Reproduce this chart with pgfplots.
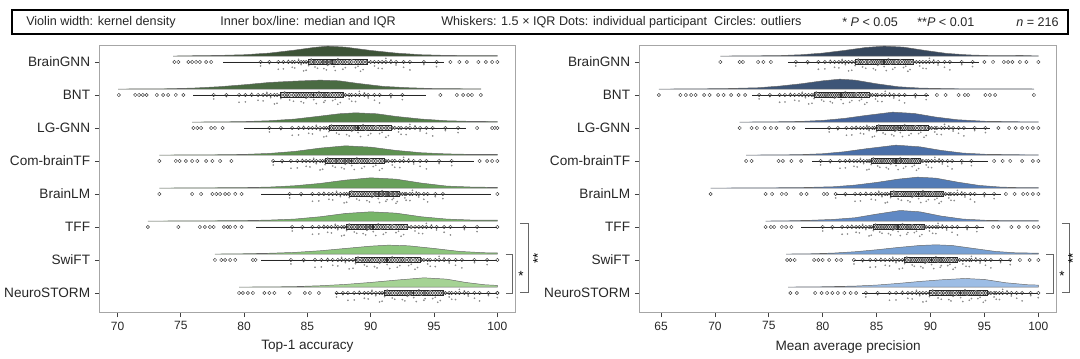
\documentclass[border=0pt]{standalone}
\usepackage{fontspec}
\setmainfont{Liberation Sans}
\usepackage{pgfplots}
\pgfplotsset{compat=1.18}
\usepackage{pgfplotstable}
\usepgfplotslibrary{statistics}

\definecolor{g1}{HTML}{3D5337}
\definecolor{g2}{HTML}{4A6B42}
\definecolor{g3}{HTML}{527E48}
\definecolor{g4}{HTML}{5D9150}
\definecolor{g5}{HTML}{67A05A}
\definecolor{g6}{HTML}{77B568}
\definecolor{g7}{HTML}{8CC57C}
\definecolor{g8}{HTML}{A5D394}
\definecolor{b1}{HTML}{36475D}
\definecolor{b2}{HTML}{3D5577}
\definecolor{b3}{HTML}{44639A}
\definecolor{b4}{HTML}{4A6FA8}
\definecolor{b5}{HTML}{527BB6}
\definecolor{b6}{HTML}{6089C4}
\definecolor{b7}{HTML}{77A0D3}
\definecolor{b8}{HTML}{9DBDE5}

% participant values (subset), columns: BrainGNN BNT LG-GNN Com-brainTF BrainLM TFF SwiFT NeuroSTORM
\pgfplotstableread{
dy a b c d e f g h
-0.12 81.3 77.6 82.0 82.3 83.6 83.8 83.7 87.3
-0.22 82.7 79.6 83.8 83.7 85.4 85.4 85.6 88.2
0.05 83.5 80.6 84.7 84.6 86.3 86.3 86.6 89.1
-0.18 84.0 81.5 85.4 85.2 87.0 86.9 87.4 89.8
-0.08 84.5 82.1 86.0 85.7 87.6 87.4 88.0 90.4
-0.25 84.9 82.6 86.5 86.2 88.1 87.9 88.6 90.9
0.09 85.3 83.2 86.9 86.6 88.5 88.3 89.0 91.3
-0.15 85.6 83.6 87.3 87.0 88.9 88.7 89.5 91.7
-0.03 86.0 84.1 87.7 87.3 89.3 89.0 89.9 92.1
-0.20 86.3 84.5 88.1 87.7 89.7 89.4 90.3 92.5
-0.10 86.6 84.9 88.5 88.0 90.1 89.7 90.7 92.9
0.02 86.9 85.3 88.8 88.3 90.4 90.0 91.1 93.2
-0.26 87.2 85.7 89.2 88.7 90.7 90.4 91.5 93.6
-0.06 87.6 86.1 89.6 89.1 91.0 90.8 91.9 94.0
-0.17 88.0 86.4 90.0 89.5 91.3 91.2 92.3 94.3
0.07 88.5 86.8 90.4 89.9 91.5 91.7 92.7 94.7
-0.13 89.0 87.2 90.9 90.4 91.8 92.2 93.2 95.1
-0.23 89.4 87.6 91.4 90.9 92.1 92.6 93.7 95.5
-0.01 90.0 88.0 91.9 91.4 92.5 93.2 94.2 95.9
-0.19 90.6 88.5 92.4 91.9 92.8 93.8 94.7 96.4
0.11 91.2 89.1 93.1 92.6 93.3 94.4 95.4 97.0
-0.09 92.0 89.8 93.9 93.4 93.8 95.2 96.2 97.7
-0.24 93.1 90.7 94.9 94.4 94.5 96.3 97.2 98.6
-0.14 95.2 92.5 96.9 96.4 95.7 98.4 99.2 100.0
-0.05 82.0 78.6 82.9 83.0 84.5 84.6 84.7 87.8
-0.21 83.1 80.1 84.3 84.2 85.9 85.9 86.1 88.7
-0.16 83.8 81.1 85.1 84.9 86.7 86.6 87.0 89.5
0.08 84.3 81.8 85.7 85.5 87.3 87.2 87.7 90.1
-0.27 84.7 82.4 86.3 86.0 87.9 87.7 88.3 90.7
-0.11 85.1 82.9 86.7 86.4 88.3 88.1 88.8 91.1
-0.02 85.5 83.4 87.1 86.8 88.7 88.5 89.3 91.5
-0.19 85.8 83.9 87.5 87.2 89.1 88.9 89.7 91.9
0.04 86.2 84.3 87.9 87.5 89.5 89.2 90.1 92.3
-0.24 86.5 84.7 88.3 87.9 89.9 89.6 90.5 92.7
-0.07 86.8 85.1 88.7 88.2 90.3 89.9 90.9 93.1
-0.14 87.1 85.5 89.0 88.5 90.6 90.2 91.3 93.4
0.10 87.4 85.9 89.4 88.9 90.9 90.6 91.7 93.8
-0.22 87.8 86.3 89.8 89.3 91.2 91.0 92.1 94.2
-0.04 88.3 86.6 90.2 89.7 91.4 91.5 92.5 94.5
-0.17 88.8 87.0 90.7 90.2 91.7 92.0 93.0 94.9
-0.28 89.2 87.4 91.2 90.7 92.0 92.4 93.5 95.3
0.01 89.7 87.8 91.7 91.2 92.3 92.9 94.0 95.7
-0.12 90.3 88.3 92.2 91.7 92.7 93.5 94.5 96.2
-0.20 90.9 88.8 92.8 92.3 93.1 94.1 95.1 96.7
0.06 91.6 89.5 93.5 93.0 93.6 94.8 95.8 97.4
-0.16 92.6 90.3 94.4 93.9 94.2 95.8 96.7 98.2
-0.08 94.2 91.6 95.9 95.4 95.1 97.4 98.2 99.3
}\leftdots

\pgfplotstableread{
dy a b c d e f g h
-0.12 77.5 74.1 80.6 79.8 81.2 80.0 82.9 84.0
-0.22 79.6 76.0 82.2 81.6 83.0 81.8 84.4 86.2
0.05 80.7 77.0 83.1 82.5 84.0 82.7 85.4 87.4
-0.18 81.5 77.8 83.8 83.2 84.9 83.4 86.2 88.3
-0.08 82.1 78.4 84.3 83.8 85.5 84.0 86.8 89.0
-0.25 82.7 79.0 84.8 84.3 86.0 84.5 87.4 89.6
0.09 83.3 79.4 85.2 84.7 86.6 84.9 87.8 90.2
-0.15 83.7 79.9 85.6 85.1 87.0 85.3 88.3 90.7
-0.03 84.2 80.3 86.0 85.5 87.5 85.7 88.7 91.2
-0.20 84.7 80.7 86.4 85.9 87.9 86.1 89.1 91.7
-0.10 85.1 81.1 86.7 86.3 88.3 86.5 89.5 92.1
0.02 85.5 81.5 87.0 86.6 88.7 86.8 89.9 92.6
-0.26 85.9 81.9 87.4 87.0 89.1 87.2 90.3 93.0
-0.06 86.3 82.3 87.8 87.3 89.4 87.6 90.7 93.4
-0.17 86.7 82.7 88.2 87.7 89.8 87.9 91.0 93.8
0.07 87.2 83.1 88.6 88.1 90.2 88.3 91.4 94.2
-0.13 87.7 83.6 89.1 88.5 90.6 88.7 91.8 94.6
-0.23 88.1 84.1 89.6 88.9 91.0 89.2 92.3 95.1
-0.01 88.7 84.6 90.1 89.3 91.4 89.6 92.7 95.6
-0.19 89.3 85.1 90.6 89.8 91.9 90.2 93.3 96.1
0.11 89.9 85.8 91.3 90.4 92.5 90.7 93.8 96.7
-0.09 90.7 86.6 92.1 91.1 93.2 91.5 94.6 97.5
-0.24 91.8 87.6 93.1 92.0 94.1 92.5 95.6 98.5
-0.14 93.9 89.6 95.1 93.8 95.9 94.3 97.4 100.0
-0.05 78.6 75.1 81.4 80.7 82.1 80.9 83.7 85.1
-0.21 80.2 76.5 82.7 82.1 83.5 82.3 84.9 86.8
-0.16 81.1 77.4 83.5 82.9 84.5 83.1 85.8 87.9
0.08 81.8 78.1 84.1 83.5 85.2 83.7 86.5 88.7
-0.27 82.4 78.7 84.6 84.1 85.8 84.3 87.1 89.3
-0.11 83.0 79.2 85.0 84.5 86.3 84.7 87.6 89.9
-0.02 83.5 79.7 85.4 84.9 86.8 85.1 88.1 90.5
-0.19 84.0 80.1 85.8 85.3 87.3 85.5 88.5 91.0
0.04 84.5 80.5 86.2 85.7 87.7 85.9 88.9 91.5
-0.24 84.9 80.9 86.6 86.1 88.1 86.3 89.3 91.9
-0.07 85.3 81.3 86.9 86.5 88.5 86.7 89.7 92.4
-0.14 85.7 81.7 87.2 86.8 88.9 87.0 90.1 92.8
0.10 86.1 82.1 87.6 87.2 89.3 87.4 90.5 93.2
-0.22 86.5 82.5 88.0 87.5 89.6 87.8 90.9 93.6
-0.04 87.0 82.9 88.4 87.9 90.0 88.1 91.2 94.0
-0.17 87.5 83.4 88.9 88.3 90.4 88.5 91.6 94.4
-0.28 87.9 83.9 89.4 88.7 90.8 89.0 92.1 94.9
0.01 88.4 84.4 89.9 89.1 91.2 89.4 92.5 95.4
-0.12 89.0 84.9 90.4 89.6 91.7 89.9 93.0 95.9
-0.20 89.6 85.5 91.0 90.1 92.2 90.5 93.6 96.4
0.06 90.3 86.2 91.7 90.8 92.9 91.1 94.2 97.1
-0.16 91.3 87.1 92.6 91.6 93.7 92.0 95.1 98.0
-0.08 92.9 88.6 94.1 92.9 95.0 93.4 96.5 99.3
}\rightdots

\pgfplotsset{
  rain/.style={
    scale only axis, height=200.25pt, anchor=south west,
    ymin=0.424, ymax=8.515, ytick={1,...,8},
    yticklabels={NeuroSTORM,SwiFT,TFF,BrainLM,Com-brainTF,LG-GNN,BNT,BrainGNN},
    tick align=outside, xtick pos=bottom, ytick pos=left,
    axis line style={black!35, line width=0.6pt},
    major tick length=3.75pt,
    every tick/.style={black!75, line width=0.5pt},
    clip=false,
    /pgf/number format/assume math mode=true,
    xticklabel style={font=\fontsize{9}{10}\selectfont, color=black!85},
    yticklabel style={font=\fontsize{10.2}{12}\selectfont, color=black!85},
    xlabel style={font=\fontsize{10.2}{12}\selectfont, color=black!85,
      at={(axis description cs:0.5,0)}, anchor=center, yshift=-26pt},
  },
  violin/.style={draw=black!60, line width=0.35pt},
  jit/.style={only marks, mark=*, mark size=0.4pt, color=black!45},
  circ/.style={only marks, mark=o, mark size=1.25pt, mark options={line width=0.35pt}, color=black!75},
  bx/.style={boxplot prepared={#1}, draw=black!85, fill=black, fill opacity=0.12,
    line width=0.5pt, boxplot/box extend=0.16, boxplot/whisker extend=0,
    boxplot/draw direction=x, boxplot/every median/.style={line width=1.1pt}},
}

\begin{document}
\begin{tikzpicture}
\useasboundingbox (0,0) rectangle (810pt,268.5pt);
% top key
\draw[line width=1.1pt] (9pt,243pt) rectangle (801pt,261pt);
\begin{scope}[every node/.style={font=\fontsize{9.45}{11}\selectfont, anchor=west, inner sep=0pt, color=black!85}]
\node at (19.5pt,252pt) {Violin width: kernel density};
\node at (165pt,252pt) {Inner box/line: median and IQR};
\node at (330.75pt,252pt) {Whiskers: 1.5 × IQR Dots: individual participant\ \ Circles: outliers};
\node at (631.5pt,252pt) {* \textit{P} < 0.05};
\node at (687.75pt,252pt) {**\textit{P} < 0.01};
\node at (762pt,252pt) {\textit{n} = 216};
\end{scope}

% ---------------- left panel ----------------
\begin{axis}[rain, at={(74.85pt,34.5pt)}, width=311.4pt,
  xmin=68.6, xmax=101.4, xtick={70,75,...,100}, xlabel={Top-1 accuracy}]
\addplot[violin, fill=g1] table[row sep=\\, y expr=\thisrow{h}+8.18]{x h\\ 74.4 0\\ 76 0.01\\ 78 0.02\\ 80 0.04\\ 82 0.09\\ 84 0.18\\ 85.5 0.26\\ 86.6 0.30\\ 88 0.27\\ 90 0.17\\ 92 0.09\\ 94 0.04\\ 96 0.02\\ 98 0.012\\ 100 0.01\\ 100 0\\} -- cycle;
\addplot[violin, fill=g2] table[row sep=\\, y expr=\thisrow{h}+7.18]{x h\\ 70.05 0\\ 72 0.005\\ 74 0.01\\ 76 0.03\\ 78 0.07\\ 80 0.13\\ 82 0.20\\ 84 0.24\\ 86 0.27\\ 87.5 0.25\\ 89 0.17\\ 91 0.08\\ 93 0.04\\ 95 0.015\\ 97 0.01\\ 98.7 0.005\\ 98.7 0\\} -- cycle;
\addplot[violin, fill=g3] table[row sep=\\, y expr=\thisrow{h}+6.18]{x h\\ 75.9 0\\ 78 0.005\\ 80 0.015\\ 82 0.04\\ 84 0.09\\ 86 0.18\\ 87.5 0.25\\ 88.8 0.28\\ 90.5 0.25\\ 92 0.17\\ 94 0.09\\ 96 0.04\\ 98 0.02\\ 100 0.015\\ 100 0\\} -- cycle;
\addplot[violin, fill=g4] table[row sep=\\, y expr=\thisrow{h}+5.18]{x h\\ 73.3 0\\ 76 0.005\\ 78 0.01\\ 80 0.02\\ 82 0.05\\ 84 0.11\\ 86 0.21\\ 88 0.28\\ 90 0.24\\ 92 0.14\\ 94 0.07\\ 96 0.035\\ 98 0.02\\ 100 0.02\\ 100 0\\} -- cycle;
\addplot[violin, fill=g5] table[row sep=\\, y expr=\thisrow{h}+4.18]{x h\\ 73.3 0\\ 76 0.005\\ 80 0.015\\ 82 0.03\\ 84 0.07\\ 86 0.14\\ 88 0.24\\ 90 0.31\\ 92 0.27\\ 94 0.15\\ 96 0.06\\ 98 0.03\\ 100 0.02\\ 100 0\\} -- cycle;
\addplot[violin, fill=g6] table[row sep=\\, y expr=\thisrow{h}+3.18]{x h\\ 72.4 0\\ 76 0.005\\ 80 0.015\\ 82 0.03\\ 84 0.06\\ 86 0.13\\ 88 0.23\\ 90 0.28\\ 92 0.24\\ 94 0.13\\ 96 0.06\\ 98 0.03\\ 100 0.025\\ 100 0\\} -- cycle;
\addplot[violin, fill=g7] table[row sep=\\, y expr=\thisrow{h}+2.18]{x h\\ 77.7 0\\ 80 0.01\\ 82 0.025\\ 84 0.05\\ 86 0.10\\ 88 0.17\\ 90 0.24\\ 91.4 0.27\\ 93 0.25\\ 95 0.17\\ 97 0.08\\ 99 0.04\\ 100 0.035\\ 100 0\\} -- cycle;
\addplot[violin, fill=g8] table[row sep=\\, y expr=\thisrow{h}+1.18]{x h\\ 79.6 0\\ 82 0.005\\ 84 0.015\\ 86 0.04\\ 88 0.08\\ 90 0.14\\ 92 0.21\\ 94.2 0.28\\ 96 0.24\\ 97.5 0.14\\ 99 0.07\\ 100 0.05\\ 100 0\\} -- cycle;
% jittered participant dots
\addplot[jit] table[x=a, y expr=8+\thisrow{dy}]{\leftdots};
\addplot[jit] table[x=b, y expr=7+\thisrow{dy}]{\leftdots};
\addplot[jit] table[x=c, y expr=6+\thisrow{dy}]{\leftdots};
\addplot[jit] table[x=d, y expr=5+\thisrow{dy}]{\leftdots};
\addplot[jit] table[x=e, y expr=4+\thisrow{dy}]{\leftdots};
\addplot[jit] table[x=f, y expr=3+\thisrow{dy}]{\leftdots};
\addplot[jit] table[x=g, y expr=2+\thisrow{dy}]{\leftdots};
\addplot[jit] table[x=h, y expr=1+\thisrow{dy}]{\leftdots};
% participant circles on the line
\addplot[circ] table[x=a, y expr=8]{\leftdots};
\addplot[circ] table[x=b, y expr=7]{\leftdots};
\addplot[circ] table[x=c, y expr=6]{\leftdots};
\addplot[circ] table[x=d, y expr=5]{\leftdots};
\addplot[circ] table[x=e, y expr=4]{\leftdots};
\addplot[circ] table[x=f, y expr=3]{\leftdots};
\addplot[circ] table[x=g, y expr=2]{\leftdots};
\addplot[circ] table[x=h, y expr=1]{\leftdots};
% boxes
\addplot[bx={draw position=8, lower whisker=78.3, lower quartile=85.1, median=87.0, upper quartile=89.7, upper whisker=95.8}] coordinates {};
\addplot[bx={draw position=7, lower whisker=76.0, lower quartile=82.9, median=85.5, upper quartile=87.8, upper whisker=94.4}] coordinates {};
\addplot[bx={draw position=6, lower whisker=80.0, lower quartile=86.7, median=89.0, upper quartile=91.6, upper whisker=97.5}] coordinates {};
\addplot[bx={draw position=5, lower whisker=82.3, lower quartile=86.4, median=88.5, upper quartile=91.1, upper whisker=98.2}] coordinates {};
\addplot[bx={draw position=4, lower whisker=81.3, lower quartile=88.3, median=90.6, upper quartile=92.3, upper whisker=99.5}] coordinates {};
\addplot[bx={draw position=3, lower whisker=80.9, lower quartile=88.1, median=90.2, upper quartile=92.9, upper whisker=100}] coordinates {};
\addplot[bx={draw position=2, lower whisker=81.3, lower quartile=88.8, median=91.3, upper quartile=93.9, upper whisker=100}] coordinates {};
\addplot[bx={draw position=1, lower whisker=87.2, lower quartile=91.1, median=93.4, upper quartile=95.7, upper whisker=100}] coordinates {};
% outliers
\addplot[circ] table[row sep=\\]{x y\\
74.5 8\\ 74.8 8\\ 75.6 8\\ 75.9 8\\ 76.2 8\\ 76.5 8\\ 77.0 8\\ 77.4 8\\ 96.3 8\\ 97.0 8\\ 97.6 8\\ 98.5 8\\ 99.1 8\\ 99.6 8\\ 100 8\\
70.1 7\\ 71.4 7\\ 71.7 7\\ 72.0 7\\ 72.3 7\\ 73.1 7\\ 73.6 7\\ 74.0 7\\ 74.6 7\\ 75.2 7\\ 95.5 7\\ 96.8 7\\ 97.3 7\\ 97.7 7\\ 98.0 7\\ 98.7 7\\
76.0 6\\ 76.3 6\\ 76.6 6\\ 77.4 6\\ 77.7 6\\ 78.3 6\\ 98.4 6\\ 99.6 6\\ 99.8 6\\ 100 6\\
73.3 5\\ 74.6 5\\ 74.9 5\\ 75.4 5\\ 75.9 5\\ 76.3 5\\ 77.0 5\\ 77.5 5\\ 78.1 5\\ 79.0 5\\ 98.6 5\\ 99.2 5\\ 99.6 5\\ 100 5\\
73.3 4\\ 75.9 4\\ 76.6 4\\ 77.5 4\\ 77.8 4\\ 78.1 4\\ 78.5 4\\ 78.8 4\\ 79.3 4\\ 79.8 4\\ 100 4\\
72.4 3\\ 74.8 3\\ 76.5 3\\ 76.9 3\\ 77.3 3\\ 77.6 3\\ 78.4 3\\ 78.7 3\\ 78.9 3\\ 79.3 3\\ 79.8 3\\ 100 3\\
77.7 2\\ 78.2 2\\ 78.5 2\\ 78.9 2\\ 79.3 2\\ 80.7 2\\ 80.9 2\\ 100 2\\
79.6 1\\ 79.9 1\\ 80.3 1\\ 80.7 1\\ 81.6 1\\ 82.0 1\\ 82.4 1\\ 83.6 1\\ 84.8 1\\ 85.2 1\\ 85.9 1\\ 100 1\\
};
% significance brackets
\draw[black!60, line width=0.5pt] (axis cs:100.66,2.18) -- (axis cs:101.21,2.18) -- (axis cs:101.21,1.0) -- (axis cs:100.66,1.0);
\draw[black!60, line width=0.5pt] (axis cs:101.79,3.12) -- (axis cs:102.48,3.12) -- (axis cs:102.48,1.02) -- (axis cs:101.79,1.02);
\node[font=\fontsize{10}{12}\selectfont, inner sep=0pt] at (axis cs:101.87,1.52) {*};
\node[font=\fontsize{10}{12}\selectfont, inner sep=0pt, rotate=90] at (axis cs:103.2,2.06) {**};
\end{axis}

% ---------------- right panel ----------------
\begin{axis}[rain, at={(479.85pt,34.5pt)}, width=312.5pt,
  xmin=63.03, xmax=101.69, xtick={65,70,...,100}, xlabel={Mean average precision}]
\addplot[violin, fill=b1] table[row sep=\\, y expr=\thisrow{h}+8.18]{x h\\ 70.5 0\\ 73 0.005\\ 76 0.015\\ 78 0.04\\ 80 0.09\\ 82 0.17\\ 84 0.26\\ 85.7 0.30\\ 87.5 0.27\\ 89.5 0.17\\ 91.5 0.08\\ 93.5 0.035\\ 95.5 0.015\\ 97 0.01\\ 98.3 0.02\\ 99.5 0.008\\ 100 0.005\\ 100 0\\} -- cycle;
\addplot[violin, fill=b2] table[row sep=\\, y expr=\thisrow{h}+7.18]{x h\\ 64.8 0\\ 68 0.005\\ 71 0.015\\ 74 0.04\\ 76 0.09\\ 78 0.16\\ 80 0.25\\ 81.6 0.30\\ 83 0.27\\ 85 0.16\\ 87 0.07\\ 89 0.03\\ 92 0.01\\ 96 0.005\\ 99.6 0.002\\ 99.6 0\\} -- cycle;
\addplot[violin, fill=b3] table[row sep=\\, y expr=\thisrow{h}+6.18]{x h\\ 72.3 0\\ 75 0.005\\ 78 0.02\\ 80 0.05\\ 82 0.11\\ 84 0.20\\ 86.5 0.30\\ 88.5 0.26\\ 90.5 0.15\\ 92.5 0.07\\ 95 0.025\\ 98 0.01\\ 100 0.005\\ 100 0\\} -- cycle;
\addplot[violin, fill=b4] table[row sep=\\, y expr=\thisrow{h}+5.18]{x h\\ 72.9 0\\ 76 0.005\\ 78 0.015\\ 80 0.04\\ 82 0.10\\ 84 0.19\\ 86.8 0.30\\ 89 0.25\\ 91 0.14\\ 93 0.06\\ 95 0.025\\ 98 0.01\\ 100 0.008\\ 100 0\\} -- cycle;
\addplot[violin, fill=b5] table[row sep=\\, y expr=\thisrow{h}+4.18]{x h\\ 69.6 0\\ 74 0.005\\ 78 0.015\\ 81 0.04\\ 83 0.09\\ 85 0.17\\ 87 0.27\\ 88.8 0.33\\ 90.5 0.30\\ 92.5 0.18\\ 94.5 0.08\\ 96.5 0.03\\ 98.5 0.012\\ 100 0.01\\ 100 0\\} -- cycle;
\addplot[violin, fill=b6] table[row sep=\\, y expr=\thisrow{h}+3.18]{x h\\ 74.7 0\\ 77 0.01\\ 79 0.025\\ 81 0.05\\ 83 0.10\\ 85 0.21\\ 87.2 0.32\\ 89 0.28\\ 91 0.15\\ 93 0.06\\ 95 0.025\\ 97.5 0.01\\ 100 0.01\\ 100 0\\} -- cycle;
\addplot[violin, fill=b7] table[row sep=\\, y expr=\thisrow{h}+2.18]{x h\\ 76.6 0\\ 79 0.01\\ 81 0.03\\ 83 0.07\\ 85 0.13\\ 87 0.20\\ 89 0.26\\ 90.5 0.28\\ 92 0.26\\ 94 0.17\\ 96 0.08\\ 98 0.035\\ 100 0.03\\ 100 0\\} -- cycle;
\addplot[violin, fill=b8] table[row sep=\\, y expr=\thisrow{h}+1.18]{x h\\ 76.8 0\\ 80 0.01\\ 83 0.03\\ 85 0.06\\ 87 0.11\\ 89 0.17\\ 91 0.22\\ 93.2 0.26\\ 95 0.23\\ 97 0.13\\ 99 0.07\\ 100 0.06\\ 100 0\\} -- cycle;
\addplot[jit] table[x=a, y expr=8+\thisrow{dy}]{\rightdots};
\addplot[jit] table[x=b, y expr=7+\thisrow{dy}]{\rightdots};
\addplot[jit] table[x=c, y expr=6+\thisrow{dy}]{\rightdots};
\addplot[jit] table[x=d, y expr=5+\thisrow{dy}]{\rightdots};
\addplot[jit] table[x=e, y expr=4+\thisrow{dy}]{\rightdots};
\addplot[jit] table[x=f, y expr=3+\thisrow{dy}]{\rightdots};
\addplot[jit] table[x=g, y expr=2+\thisrow{dy}]{\rightdots};
\addplot[jit] table[x=h, y expr=1+\thisrow{dy}]{\rightdots};
\addplot[circ] table[x=a, y expr=8]{\rightdots};
\addplot[circ] table[x=b, y expr=7]{\rightdots};
\addplot[circ] table[x=c, y expr=6]{\rightdots};
\addplot[circ] table[x=d, y expr=5]{\rightdots};
\addplot[circ] table[x=e, y expr=4]{\rightdots};
\addplot[circ] table[x=f, y expr=3]{\rightdots};
\addplot[circ] table[x=g, y expr=2]{\rightdots};
\addplot[circ] table[x=h, y expr=1]{\rightdots};
\addplot[bx={draw position=8, lower whisker=76.8, lower quartile=83.0, median=85.7, upper quartile=88.4, upper whisker=94.5}] coordinates {};
\addplot[bx={draw position=7, lower whisker=73.4, lower quartile=79.2, median=81.7, upper quartile=84.3, upper whisker=89.9}] coordinates {};
\addplot[bx={draw position=6, lower whisker=78.4, lower quartile=85.0, median=87.2, upper quartile=89.8, upper whisker=95.5}] coordinates {};
\addplot[bx={draw position=5, lower whisker=79.0, lower quartile=84.5, median=86.8, upper quartile=89.1, upper whisker=95.3}] coordinates {};
\addplot[bx={draw position=4, lower whisker=81.2, lower quartile=86.3, median=88.9, upper quartile=91.2, upper whisker=96.5}] coordinates {};
\addplot[bx={draw position=3, lower whisker=78.0, lower quartile=84.7, median=87.0, upper quartile=89.4, upper whisker=95.0}] coordinates {};
\addplot[bx={draw position=2, lower whisker=82.9, lower quartile=87.6, median=90.1, upper quartile=92.5, upper whisker=97.5}] coordinates {};
\addplot[bx={draw position=1, lower whisker=83.6, lower quartile=89.9, median=92.8, upper quartile=95.3, upper whisker=100}] coordinates {};
\addplot[circ] table[row sep=\\]{x y\\
70.5 8\\ 72.3 8\\ 72.6 8\\ 74.0 8\\ 74.5 8\\ 75.2 8\\ 95.0 8\\ 95.8 8\\ 96.8 8\\ 97.2 8\\ 97.6 8\\ 98.3 8\\ 98.9 8\\ 100 8\\
64.8 7\\ 66.8 7\\ 67.3 7\\ 67.8 7\\ 68.2 7\\ 69.0 7\\ 69.5 7\\ 70.3 7\\ 70.8 7\\ 71.5 7\\ 72.2 7\\ 72.8 7\\ 90.6 7\\ 91.4 7\\ 92.6 7\\ 93.2 7\\ 93.5 7\\ 95.1 7\\ 95.5 7\\ 96.0 7\\ 99.6 7\\
72.3 6\\ 73.4 6\\ 73.9 6\\ 74.6 6\\ 75.2 6\\ 75.7 6\\ 76.8 6\\ 77.3 6\\ 96.3 6\\ 97.3 6\\ 97.9 6\\ 98.5 6\\ 99.0 6\\ 99.5 6\\ 100 6\\
72.9 5\\ 73.4 5\\ 75.9 5\\ 76.3 5\\ 77.1 5\\ 78.0 5\\ 95.9 5\\ 96.7 5\\ 97.4 5\\ 98.5 5\\ 99.5 5\\ 100 5\\
69.6 4\\ 74.7 4\\ 75.3 4\\ 76.2 4\\ 76.6 4\\ 78.0 4\\ 78.5 4\\ 80.1 4\\ 80.4 4\\ 97.0 4\\ 97.8 4\\ 98.6 4\\ 99.0 4\\ 99.5 4\\ 100 4\\
74.7 3\\ 75.2 3\\ 75.5 3\\ 76.2 3\\ 76.6 3\\ 77.1 3\\ 95.8 3\\ 96.3 3\\ 97.5 3\\ 98.2 3\\ 99.0 3\\ 99.6 3\\ 100 3\\
76.7 2\\ 77.0 2\\ 77.4 2\\ 79.2 2\\ 79.6 2\\ 80.0 2\\ 80.6 2\\ 81.3 2\\ 81.7 2\\ 98.3 2\\ 99.2 2\\ 100 2\\
77.0 1\\ 77.6 1\\ 79.3 1\\ 79.9 1\\ 80.4 1\\ 80.9 1\\ 81.4 1\\ 82.0 1\\ 82.6 1\\ 83.1 1\\
};
\draw[black!60, line width=0.5pt] (axis cs:100.76,2.18) -- (axis cs:101.36,2.18) -- (axis cs:101.36,1.0) -- (axis cs:100.76,1.0);
\draw[black!60, line width=0.5pt] (axis cs:102.2,3.12) -- (axis cs:102.85,3.12) -- (axis cs:102.85,1.02) -- (axis cs:102.2,1.02);
\node[font=\fontsize{10}{12}\selectfont, inner sep=0pt] at (axis cs:102.2,1.52) {*};
\node[font=\fontsize{10}{12}\selectfont, inner sep=0pt, rotate=90] at (axis cs:103.2,2.06) {**};
\end{axis}
\end{tikzpicture}
\end{document}
